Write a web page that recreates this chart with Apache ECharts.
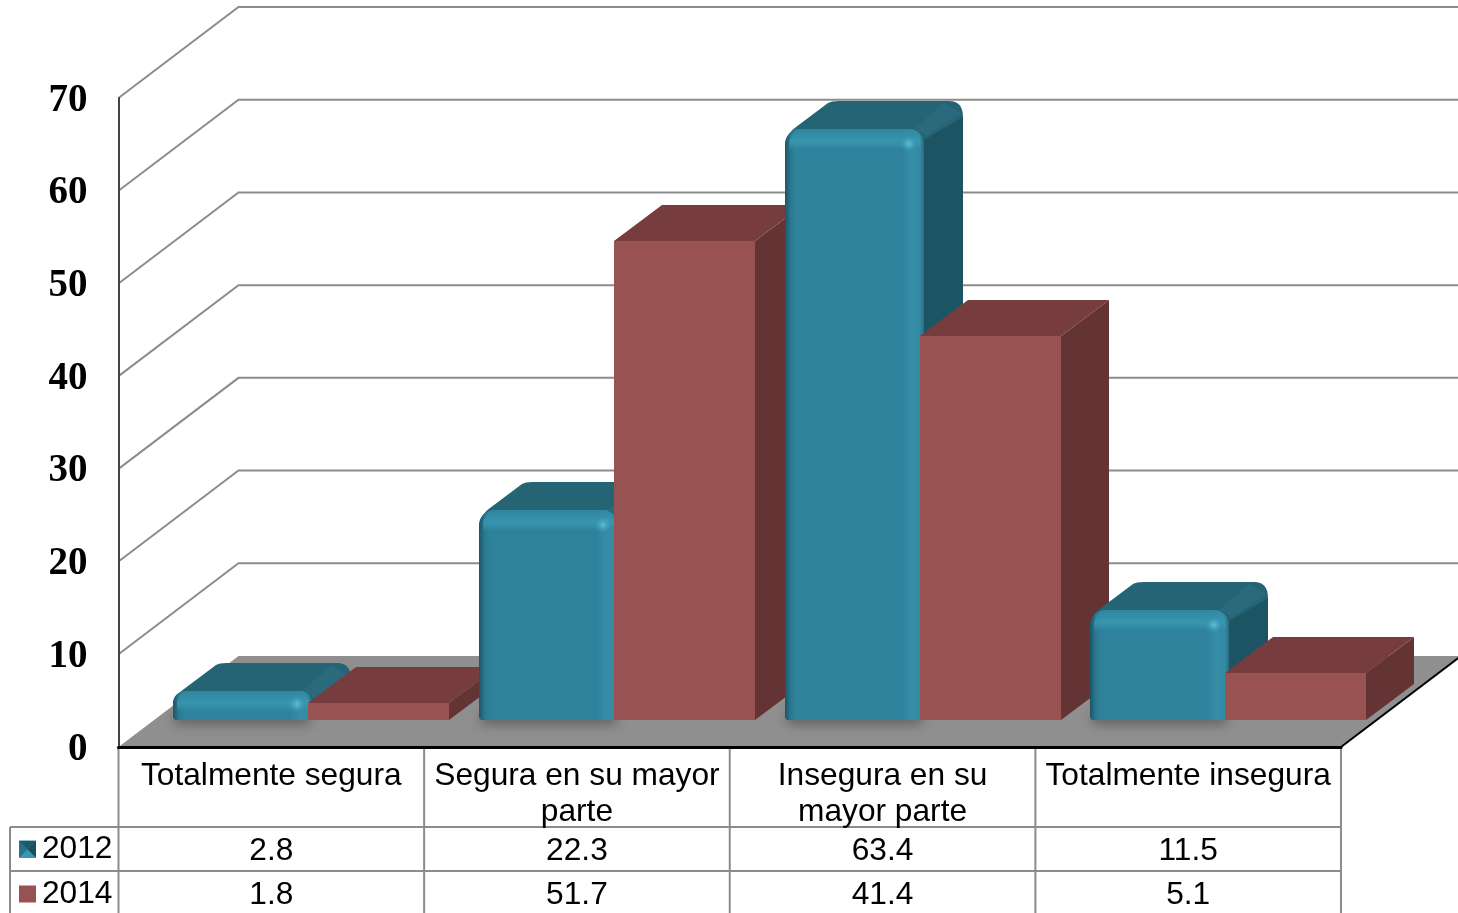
<!DOCTYPE html>
<html><head><meta charset="utf-8">
<style>html,body{margin:0;padding:0;background:#fff}#c{width:1458px;height:913px}</style>
<script src="https://cdn.jsdelivr.net/npm/echarts@6/dist/echarts.min.js"></script>
</head><body><div id="c"></div>
<script>
const categories = ['Totalmente segura', 'Segura en su mayor\nparte', 'Insegura en su\nmayor parte', 'Totalmente insegura'];
const values2012 = [2.8, 22.3, 63.4, 11.5];
const values2014 = [1.8, 51.7, 41.4, 5.1];
const yTicks = [0, 10, 20, 30, 40, 50, 60, 70];

const FONT = '"Liberation Sans", Arial, sans-serif';
const WALL_DX = 120, WALL_DY = 91;      // projection of the back wall
const BAR_DX = 48, BAR_DY = 36;         // projection of a bar's depth
const INSET = 27, SPLIT = 37;
const ROW1 = 104, ROW2 = 148;           // table rows, below the axis
const LINE1 = 80, LINE2 = 124;
const GREY = '#8c8c8c';

function poly(points, fill, z2, extra) {
  return Object.assign({ type: 'polygon', shape: { points }, style: { fill }, z2 }, extra || {});
}
function cellText(text, x, y, z2) {
  return { type: 'text', z2, style: { text, x, y, align: 'center', verticalAlign: 'middle', font: '31.7px ' + FONT, fill: '#000' } };
}

function renderWall(params, api) {
  const v = api.value(0);
  const p = api.coord([0, v]);
  const band = api.size([1, 0])[0];
  const x0 = p[0] - band / 2, y = p[1];
  const xr = x0 + band * categories.length;
  const children = [];
  if (v === 0) {
    children.push(poly([[x0, y], [xr, y], [xr + WALL_DX, y - WALL_DY], [x0 + WALL_DX, y - WALL_DY]], '#8f8f8f', 0));
    children.push({ type: 'line', z2: 2, shape: { x1: xr, y1: y, x2: xr + WALL_DX, y2: y - WALL_DY }, style: { stroke: '#000', lineWidth: 2 } });
  } else {
    children.push({ type: 'polyline', z2: 1, shape: { points: [[x0, y], [x0 + WALL_DX, y - WALL_DY], [xr + WALL_DX, y - WALL_DY]] }, style: { stroke: GREY, lineWidth: 2, fill: null } });
  }
  return { type: 'group', children };
}

function renderBlue(params, api) {
  const cat = api.value(0), val = api.value(1);
  const top = api.coord([cat, val]), base = api.coord([cat, 0]);
  const mid = Math.round(top[0] + SPLIT);
  const L = mid - 135, R = mid + 4, Rb = R + 39;
  const T = Math.round(top[1]) - INSET - 3, B = Math.round(base[1]) - INSET;
  const h = B - T, r = Math.min(15, h * 0.42);
  const z = (cat * 10) * 10;
  const d = 'M' + L + ' ' + (T + r) + ' Q' + (L + 2) + ' ' + (T + 4) + ' ' + (L + 11) + ' ' + (T - 2)
    + ' L' + (L + 43) + ' ' + (T - 26) + ' Q' + (L + 46) + ' ' + (T - 28) + ' ' + (L + 54) + ' ' + (T - 28)
    + ' L' + (Rb - 14) + ' ' + (T - 28) + ' Q' + Rb + ' ' + (T - 28) + ' ' + Rb + ' ' + (T - 12)
    + ' L' + Rb + ' ' + (B - 28) + ' L' + R + ' ' + B + ' Z';
  const children = [
    { type: 'rect', z2: z, shape: { x: L + 2, y: B - 8, width: R - L - 4, height: 8 },
      style: { fill: 'rgba(30,30,30,0.6)', shadowColor: 'rgba(0,0,0,0.75)', shadowBlur: 12, shadowOffsetY: 3 } },
    { type: 'path', z2: z + 1, shape: { pathData: d }, style: { fill: '#256474' } },
    poly([[R - 10, T], [R + 20, T - 26], [Rb - 2, T - 16], [R + 3, T + 7]], '#2b6a7c', z + 2),
    poly([[R, T + 11], [Rb, T - 12], [Rb, B - 28], [R, B]], '#1d5463', z + 3),
    { type: 'rect', z2: z + 4, shape: { x: L, y: T, width: R - L, height: h, r: [r, r, 4, 4] },
      style: { fill: { type: 'linear', x: 0, y: 0, x2: 1, y2: 0, colorStops: [
        { offset: 0, color: '#1c5566' }, { offset: 0.04, color: '#2a788f' }, { offset: 0.08, color: '#2f829b' },
        { offset: 0.84, color: '#2f829b' }, { offset: 0.91, color: '#358da7' }, { offset: 0.97, color: '#338aa3' }, { offset: 1, color: '#286d82' }] } } },
    { type: 'rect', z2: z + 5, shape: { x: L + 4, y: T, width: R - L - 7, height: Math.min(22, h * 0.75), r: [r, r, 0, 0] },
      style: { fill: { type: 'linear', x: 0, y: 0, x2: 0, y2: 1, colorStops: [
        { offset: 0, color: 'rgba(50,135,160,0.7)' }, { offset: 0.55, color: 'rgba(58,152,178,0.85)' },
        { offset: 0.78, color: 'rgba(56,146,172,0.6)' }, { offset: 1, color: 'rgba(47,131,156,0)' }] } } },
    { type: 'circle', z2: z + 6, shape: { cx: R - 15, cy: T + Math.min(15, h * 0.45), r: 8 },
      style: { fill: { type: 'radial', x: 0.5, y: 0.5, r: 0.5, colorStops: [
        { offset: 0, color: 'rgba(100,198,222,0.9)' }, { offset: 0.5, color: 'rgba(80,175,200,0.5)' }, { offset: 1, color: 'rgba(70,165,190,0)' }] } } },
    cellText(String(val), top[0], base[1] + ROW1, 900)
  ];
  return { type: 'group', children };
}

function renderRed(params, api) {
  const cat = api.value(0), val = api.value(1);
  const top = api.coord([cat, val]), base = api.coord([cat, 0]);
  const L = Math.round(top[0] + SPLIT), R = L + 141;
  const T = Math.round(top[1]) - INSET, B = Math.round(base[1]) - INSET;
  const z = (cat * 10 + 5) * 10;
  const children = [
    poly([[R, T], [R + BAR_DX, T - BAR_DY], [R + BAR_DX, B - BAR_DY], [R, B]], '#643334', z),
    poly([[L, T], [L + BAR_DX, T - BAR_DY], [R + BAR_DX, T - BAR_DY], [R, T]], '#773d3e', z + 1),
    { type: 'rect', z2: z + 2, shape: { x: L, y: T, width: R - L, height: B - T }, style: { fill: '#995252' } },
    cellText(String(val), top[0], base[1] + ROW2, 900)
  ];
  return { type: 'group', children };
}

function renderTable(params, api) {
  const cat = api.value(0);
  const p = api.coord([cat, 0]);
  const band = api.size([1, 0])[0];
  const y = p[1], xr = p[0] + band / 2, xl = p[0] - band / 2;
  const line = (x1, y1, x2, y2) => ({ type: 'line', z2: 5, shape: { x1, y1, x2, y2 }, style: { stroke: GREY, lineWidth: 2 } });
  const children = [line(xr, y, xr, y + 170), line(xl, y + LINE1, xr, y + LINE1), line(xl, y + LINE2, xr, y + LINE2)];
  if (cat === 0) {
    children.push(line(xl, y, xl, y + 170));
    children.push(line(10, y + LINE1, xl, y + LINE1), line(10, y + LINE2, xl, y + LINE2), line(10, y + LINE1, 10, y + 170));
  }
  return { type: 'group', children };
}

const chart = echarts.init(document.getElementById('c'), null, { renderer: 'canvas', width: 1458, height: 913 });
chart.setOption({
  animation: false,
  backgroundColor: '#fff',
  color: ['#2f829b', '#995252'],
  grid: { left: 118.5, width: 1222.5, top: 98, bottom: 166, containLabel: false },
  legend: {
    show: true, orient: 'vertical', left: 19, top: 833, height: 80, padding: 0, itemWidth: 17, itemHeight: 17, itemGap: 13, selectedMode: false,
    icon: 'rect', data: ['2012', '2014'],
    textStyle: { fontFamily: FONT, fontSize: 31.7, lineHeight: 31, color: '#000', padding: [0, 0, 0, 1] }
  },
  xAxis: {
    type: 'category', data: categories, z: 6,
    axisLine: { show: true, lineStyle: { color: '#000', width: 3 } },
    axisTick: { show: false },
    axisLabel: { margin: 11, interval: 0, color: '#000', fontFamily: FONT, fontSize: 31.7, lineHeight: 36, verticalAlign: 'top' }
  },
  yAxis: {
    type: 'value', min: 0, max: 70, interval: 10, z: 6,
    axisLine: { show: true, lineStyle: { color: '#444', width: 2 } },
    axisTick: { show: false },
    splitLine: { show: false },
    axisLabel: { margin: 31, formatter: '{n|{value}}', rich: { n: {
      color: '#000', fontFamily: '"Liberation Serif", "Times New Roman", serif', fontWeight: 'bold', fontSize: 39, padding: [5, 0, 0, 0] } } }
  },
  graphic: [
    { type: 'polygon', z: 20, shape: { points: [[19, 841], [36, 841], [27.5, 849.5]] }, style: { fill: '#1f5a6b' } },
    { type: 'polygon', z: 20, shape: { points: [[19, 841], [19, 858], [27.5, 849.5]] }, style: { fill: '#2a7188' } },
    { type: 'polygon', z: 20, shape: { points: [[36, 841], [36, 858], [27.5, 849.5]] }, style: { fill: '#1b4d5c' } },
    { type: 'polygon', z: 20, shape: { points: [[19, 858], [36, 858], [27.5, 849.5]] }, style: { fill: '#3a97b2' } }
  ],
  series: [
    { type: 'custom', name: 'wall', z: 1, silent: true, coordinateSystem: 'cartesian2d', clip: false,
      encode: { y: 0 }, data: yTicks.map(v => [v]), renderItem: renderWall },
    { type: 'custom', name: '2012', z: 2, coordinateSystem: 'cartesian2d', clip: false, itemStyle: { color: '#2f829b' },
      encode: { x: 0, y: 1 }, data: values2012.map((v, i) => [i, v]), renderItem: renderBlue },
    { type: 'custom', name: '2014', z: 2, coordinateSystem: 'cartesian2d', clip: false, itemStyle: { color: '#995252' },
      encode: { x: 0, y: 1 }, data: values2014.map((v, i) => [i, v]), renderItem: renderRed },
    { type: 'custom', name: 'table', z: 3, silent: true, coordinateSystem: 'cartesian2d', clip: false,
      encode: { x: 0 }, data: categories.map((c, i) => [i]), renderItem: renderTable }
  ]
});
</script>
</body></html>
